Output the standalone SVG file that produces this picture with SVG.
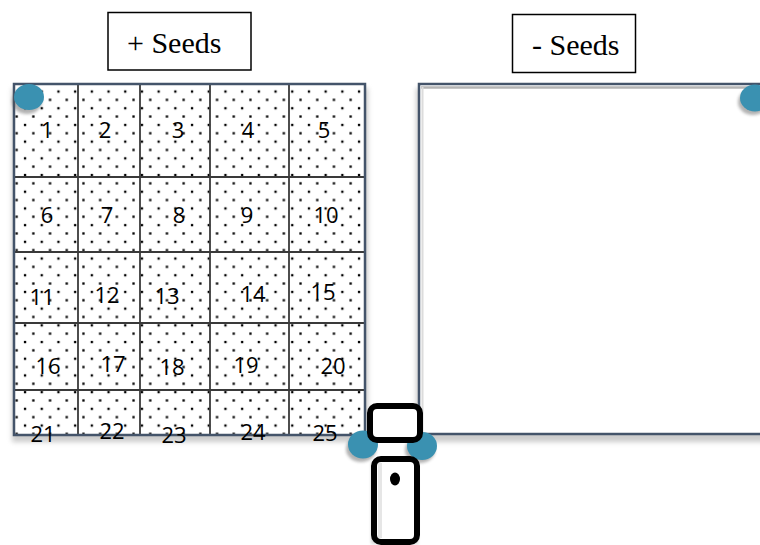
<svg xmlns="http://www.w3.org/2000/svg" width="760" height="545" viewBox="0 0 760 545">
  <defs>
    <pattern id="dots" patternUnits="userSpaceOnUse" x="8.3" y="8" width="16.7" height="16.7">
      <rect x="-1.1" y="-1.1" width="2.3" height="2.3" fill="#000"/>
      <rect x="15.6" y="-1.1" width="2.3" height="2.3" fill="#000"/>
      <rect x="-1.1" y="15.6" width="2.3" height="2.3" fill="#000"/>
      <rect x="15.6" y="15.6" width="2.3" height="2.3" fill="#000"/>
      <rect x="7.2" y="7.2" width="2.3" height="2.3" fill="#000"/>
    </pattern>
    <filter id="shadow" x="-20%" y="-20%" width="140%" height="140%">
      <feGaussianBlur stdDeviation="2.5"/>
    </filter>
    <filter id="soft" x="-50%" y="-50%" width="200%" height="200%">
      <feGaussianBlur stdDeviation="1.5"/>
    </filter>
  </defs>
  <style>
    text.label { font-family: 'Liberation Serif', 'Times New Roman', Tinos, 'DejaVu Serif', serif; font-size: 30px; fill: #000; }
    .lbox { fill: #fff; stroke: #000; stroke-width: 1.5; }
    text.num { font-family: 'Open Sans', 'Liberation Sans', sans-serif; font-size: 22px; fill: #000; text-anchor: middle; }
    .cell { fill: none; stroke: #3a3a3a; stroke-width: 1.8; }
    .frame { stroke: #44546a; stroke-width: 2.5; }
    .seed { fill: #3a91b1; }
    .seedsh { fill: #555; opacity: 0.45; filter: url(#soft); }
    .tag { fill: #fff; stroke: #000; stroke-width: 6; }
  </style>

  <rect width="760" height="545" fill="#fff"/>

  <g id="label-plus">
    <rect class="lbox" x="108" y="12.5" width="143" height="57.5"/>
    <text class="label" style="font-family: 'Liberation Serif', serif" x="127" y="53">+ Seeds</text>
  </g>

  <g id="label-minus">
    <rect class="lbox" x="512.5" y="14.5" width="123" height="58"/>
    <text class="label" style="font-family: 'Liberation Serif', serif" x="532" y="55">- Seeds</text>
  </g>

  <g id="plot-plus">
    <rect x="12" y="88" width="356" height="354" fill="#9a9a9a" opacity="0.5" filter="url(#shadow)"/>
    <rect x="14" y="84" width="351" height="351" fill="#fff"/>
    <rect x="14" y="84" width="351" height="351" fill="url(#dots)"/>
    <g class="cell">
      <line x1="78" y1="84" x2="78" y2="435"/>
      <line x1="140" y1="84" x2="140" y2="435"/>
      <line x1="210" y1="84" x2="210" y2="435"/>
      <line x1="289" y1="84" x2="289" y2="435"/>
      <line x1="14" y1="177" x2="365" y2="177"/>
      <line x1="14" y1="252" x2="365" y2="252"/>
      <line x1="14" y1="323" x2="365" y2="323"/>
      <line x1="14" y1="390" x2="365" y2="390"/>
    </g>
    <rect class="frame" x="14" y="84" width="351" height="351" fill="none"/>
    <g id="numbers">
      <text class="num" x="47" y="138">1</text>
      <text class="num" x="105" y="138">2</text>
      <text class="num" x="178" y="138">3</text>
      <text class="num" x="248" y="138">4</text>
      <text class="num" x="324" y="138">5</text>
      <text class="num" x="47" y="223">6</text>
      <text class="num" x="107" y="223">7</text>
      <text class="num" x="179" y="223">8</text>
      <text class="num" x="247" y="223">9</text>
      <text class="num" x="326" y="223">10</text>
      <text class="num" x="42" y="305">11</text>
      <text class="num" x="107" y="303">12</text>
      <text class="num" x="167" y="304">13</text>
      <text class="num" x="253" y="302">14</text>
      <text class="num" x="323" y="300">15</text>
      <text class="num" x="48" y="374">16</text>
      <text class="num" x="113" y="372">17</text>
      <text class="num" x="172" y="375">18</text>
      <text class="num" x="246" y="373">19</text>
      <text class="num" x="333" y="374">20</text>
      <text class="num" x="43" y="442">21</text>
      <text class="num" x="112" y="439">22</text>
      <text class="num" x="174" y="443">23</text>
      <text class="num" x="253" y="440">24</text>
      <text class="num" x="325" y="441">25</text>
    </g>
  </g>

  <g id="plot-minus">
    <rect x="416" y="88" width="360" height="354" fill="#9a9a9a" opacity="0.5" filter="url(#shadow)"/>
    <rect x="419" y="84" width="360" height="350" fill="#fff"/>
    <line x1="421" y1="87.5" x2="760" y2="87.5" stroke="#b4b4b4" stroke-width="2.5"/>
    <line x1="422.5" y1="87" x2="422.5" y2="433" stroke="#dcdcdc" stroke-width="2"/>
    <rect class="frame" x="419" y="84" width="360" height="350" fill="none"/>
  </g>

  <g id="markers">
    <ellipse class="seedsh" cx="27" cy="101" rx="15" ry="13"/>
    <ellipse class="seed" cx="29" cy="97" rx="15" ry="13"/>
    <ellipse class="seedsh" cx="753" cy="102" rx="15" ry="13"/>
    <ellipse class="seed" cx="755" cy="98" rx="15" ry="13.5"/>
    <ellipse class="seedsh" cx="361" cy="449" rx="15" ry="13"/>
    <ellipse class="seed" cx="363" cy="444.5" rx="15" ry="14"/>
    <ellipse class="seedsh" cx="420" cy="450" rx="15" ry="13"/>
    <ellipse class="seed" cx="422" cy="446" rx="15" ry="14"/>
  </g>

  <g id="tag">
    <rect x="371" y="462" width="47" height="82" fill="#999" opacity="0.4" filter="url(#soft)"/>
    <rect class="tag" x="374" y="459" width="43" height="83" rx="7"/>
    <rect x="378" y="463" width="4" height="75" fill="#e6e6e6"/>
    <ellipse cx="395" cy="479" rx="5" ry="6.5" fill="#000"/>
    <rect class="tag" x="370" y="406" width="50" height="34" rx="7"/>
  </g>
</svg>
